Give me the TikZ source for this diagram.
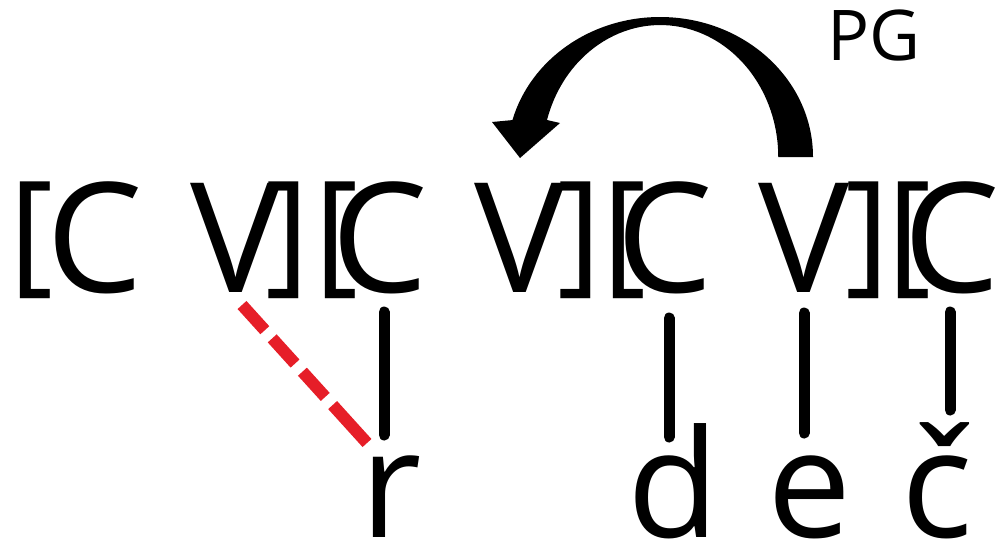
\documentclass[tikz,border=0pt]{standalone}
\usepackage{fontspec}
\setmainfont{Open Sans}
\definecolor{linkred}{RGB}{230,30,40}
\tikzset{
  seg/.style={font=\fontsize{153}{153}\selectfont, inner sep=0pt, anchor=base},
  brk/.style={font=\fontsize{134}{134}\selectfont, inner sep=0pt, anchor=north},
  low/.style={font=\fontsize{150}{150}\selectfont, inner sep=0pt, anchor=base},
  link/.style={line width=11pt, line cap=round},
  redlink/.style={line width=12pt, draw=linkred, dash pattern=on 34pt off 11pt on 34pt off 11pt on 34pt off 11pt on 60pt off 10pt}
}
\begin{document}
\begin{tikzpicture}[x=1pt,y=-1pt]
\useasboundingbox (0,0) rectangle (998,547);
% top row
\node[brk] (b1) at (32,182) {[};
\node[seg] (C1) at (95,292) {C};
\node[seg] (V1) at (236,292) {V};
\node[brk] (k1) at (288,182) {]};
\node[brk] (b2) at (337,182) {[};
\node[seg] (C2) at (380,292) {C};
\node[seg] (V2) at (520,292) {V};
\node[brk] (k2) at (580,182) {]};
\node[brk] (b3) at (625,182) {[};
\node[seg] (C3) at (665,292) {C};
\node[seg] (V3) at (804,292) {V};
\node[brk] (k3) at (868,182) {]};
\node[brk] (b4) at (910,182) {[};
\node[seg] (C4) at (952,292) {C};
% bottom row
\node[low] (r) at (391,537) {r};
\node[low] (d) at (673,537) {d};
\node[low] (e) at (810,537) {e};
\node[low] (cc) at (937,537) {č};
% label
\node[font=\fontsize{70}{70}\selectfont, inner sep=0pt, anchor=base] (PG) at (874,60) {PG};
% connector ends
\coordinate (C2a) at (384,312); \coordinate (ra) at (384,435);
\coordinate (C3a) at (669,318); \coordinate (da) at (669,437);
\coordinate (V3a) at (804,313); \coordinate (ea) at (804,433);
\coordinate (C4a) at (950,312); \coordinate (cca) at (950,410);
\coordinate (V1a) at (242,305); \coordinate (rb) at (367,443);
\draw[link] (C2a) -- (ra);
\draw[link] (C3a) -- (da);
\draw[link] (V3a) -- (ea);
\draw[link] (C4a) -- (cca);
\draw[redlink] (V1a) -- (rb);
% curved arrow
\fill (813,157) arc[start angle=0, end angle=-164.7, x radius=153, y radius=140]
  -- (492,122) -- (520,158) -- (560,123) -- (547,120)
  arc[start angle=-163.7, end angle=0, x radius=118, y radius=132] -- cycle;
\end{tikzpicture}
\end{document}
